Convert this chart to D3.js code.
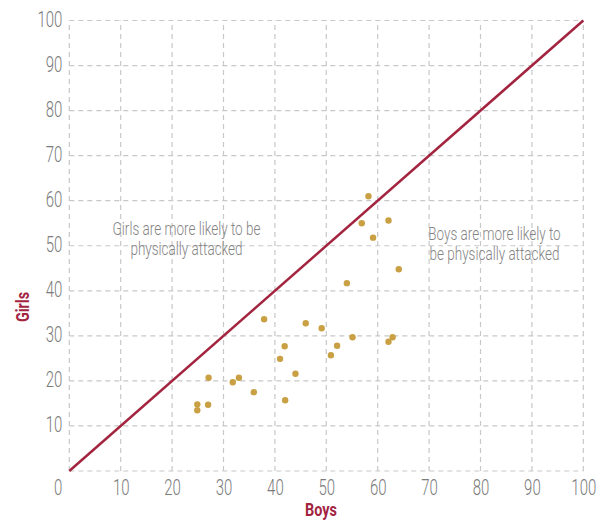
<!DOCTYPE html>
<html><head><meta charset="utf-8">
<script src="https://cdn.jsdelivr.net/npm/d3@7"></script>
<style>
body{margin:0;background:#fff;}
svg text{font-family:Roboto,"Liberation Sans",sans-serif;}
</style></head>
<body><svg id="c" width="600" height="525"></svg>
<script>
const boys  = [58.2,56.9,62.1,59.1,64.1,54.0,37.9,46.0,49.1,55.1,62.9,62.1,52.1,41.9,50.9,41.0,44.0,27.1,33.0,31.8,35.9,42.0,24.9,27.0,24.9];
const girls = [61.0,55.0,55.6,51.8,44.8,41.7,33.7,32.8,31.7,29.7,29.7,28.7,27.8,27.7,25.7,24.9,21.6,20.7,20.7,19.7,17.5,15.7,14.8,14.7,13.5];
const xTicks = [0,10,20,30,40,50,60,70,80,90,100];
const yTicks = [10,20,30,40,50,60,70,80,90,100];
const diagonal = [0,100];
const xTitle = "Boys", yTitle = "Girls";
const noteGirls = ["Girls are more likely to be","physically attacked"];
const noteBoys = ["Boys are more likely to","be physically attacked"];

const crimson = "#a3243f", gold = "#c9a043", grey = "#7b7b7b";
const svg = d3.select("#c");
const x = d3.scaleLinear().domain([0,100]).range([69.3,583.3]);
const y = d3.scaleLinear().domain([0,100]).range([471,20.5]);
const SX = 0.68;

// grid
const grid = svg.append("g");
grid.selectAll("line.v").data(xTicks).join("line")
  .attr("x1",d=>x(d)).attr("x2",d=>x(d)).attr("y1",y(0)).attr("y2",y(100))
  .attr("stroke","#c8c8c8").attr("stroke-width",1.2).attr("stroke-dasharray","5,4");
grid.selectAll("line.h").data([0].concat(yTicks)).join("line")
  .attr("y1",d=>y(d)).attr("y2",d=>y(d)).attr("x1",x(0)).attr("x2",x(100))
  .attr("stroke","#c8c8c8").attr("stroke-width",1.2).attr("stroke-dasharray","5,4");

// axes
const gx = svg.append("g").attr("transform",`translate(0,${y(0)})`)
  .call(d3.axisBottom(x).tickValues(xTicks).tickSize(0).tickFormat(d3.format("d")));
gx.select(".domain").remove();
gx.selectAll("text").attr("y",0).attr("dy",0)
  .attr("transform",d=>`translate(${d===0?-11.6:0},24) scale(${SX},1)`)
  .attr("font-size",22).attr("font-weight",300).attr("fill",grey);

const gy = svg.append("g").attr("transform",`translate(${x(0)},0)`)
  .call(d3.axisLeft(y).tickValues(yTicks).tickSize(0).tickFormat(d3.format("d")));
gy.select(".domain").remove();
gy.selectAll("text").attr("x",0).attr("dy","0.3em")
  .attr("transform",`translate(-7,-1) scale(${SX},1)`)
  .attr("font-size",22).attr("font-weight",300).attr("fill",grey);

// diagonal
svg.append("line")
  .attr("x1",x(diagonal[0])).attr("y1",y(diagonal[0]))
  .attr("x2",x(diagonal[1])).attr("y2",y(diagonal[1]))
  .attr("stroke",crimson).attr("stroke-width",2.5);

// points
svg.append("g").selectAll("circle").data(boys.map((b,i)=>[b,girls[i]])).join("circle")
  .attr("cx",d=>x(d[0])).attr("cy",d=>y(d[1])).attr("r",3.2).attr("fill",gold);

// titles
svg.append("text").text(xTitle)
  .attr("transform",`translate(321,516) scale(0.8,1)`)
  .attr("text-anchor","middle").attr("font-size",18).attr("font-weight",700).attr("fill",crimson);
svg.append("text").text(yTitle)
  .attr("transform",`translate(28.5,307) rotate(-90) scale(0.8,1)`)
  .attr("text-anchor","middle").attr("font-size",18).attr("font-weight",700).attr("fill",crimson);

// notes
function note(lines, cx, by){
  svg.append("g").selectAll("text").data(lines).join("text").text(d=>d)
    .attr("transform",(d,i)=>`translate(${cx},${by+i*19.5}) scale(0.75,1)`)
    .attr("text-anchor","middle").attr("font-size",18).attr("font-weight",300).attr("fill","#858585");
}
note(noteGirls, 186.5, 235);
note(noteBoys, 494.5, 240);
</script></body></html>
